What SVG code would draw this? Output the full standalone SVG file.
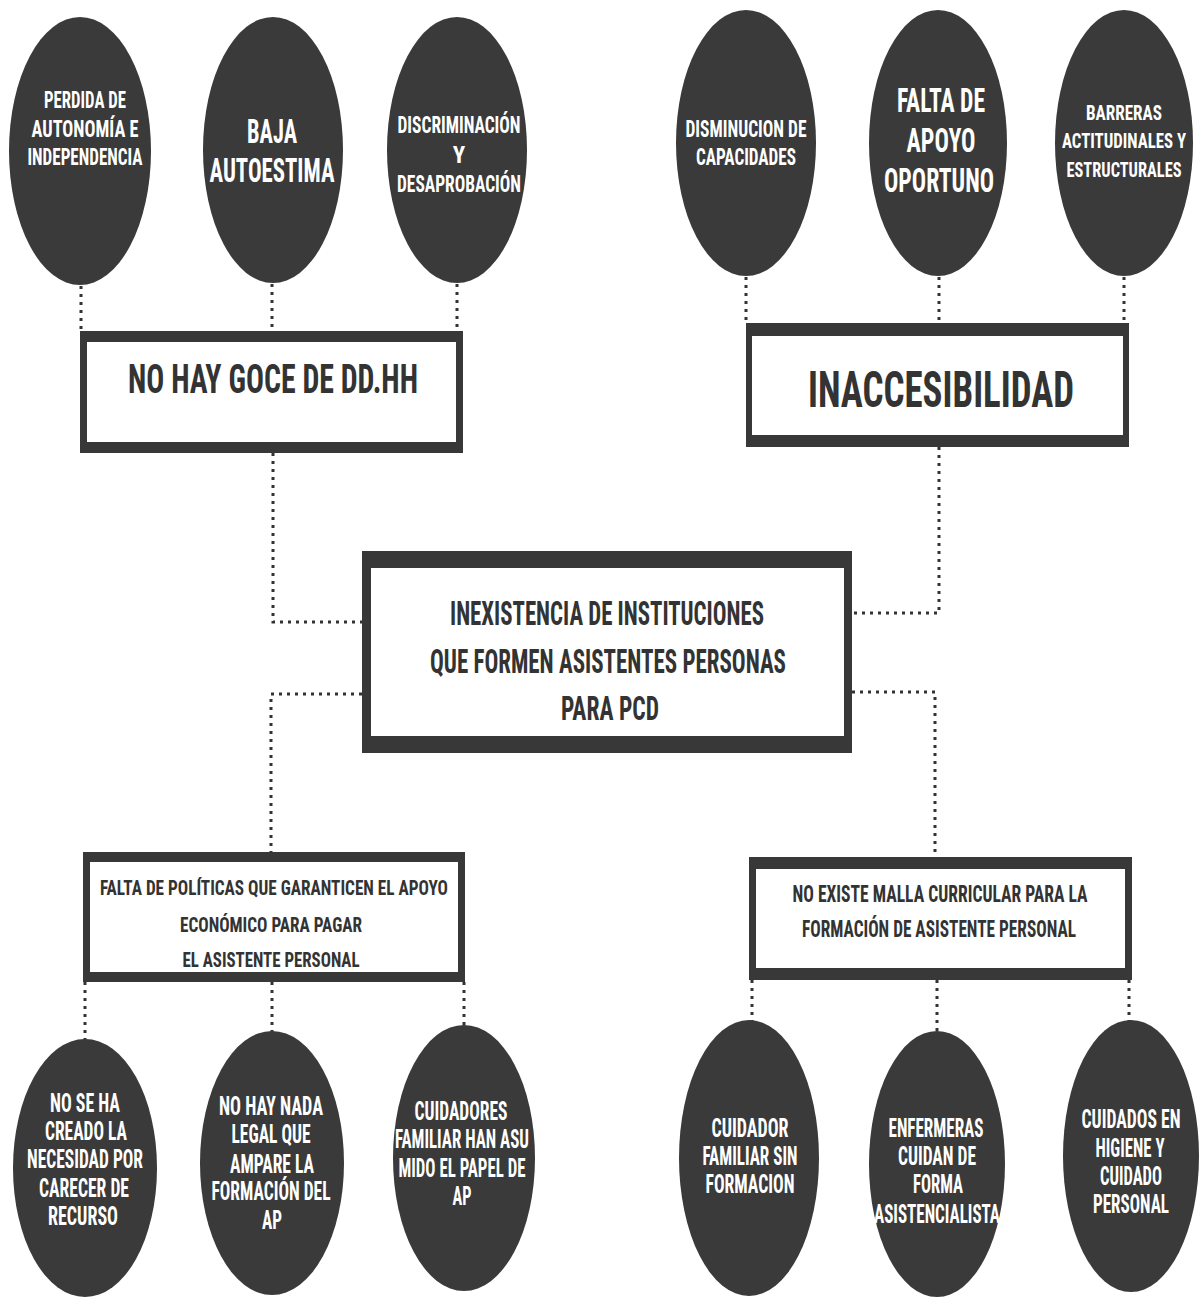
<svg xmlns="http://www.w3.org/2000/svg" width="1202" height="1299" viewBox="0 0 1202 1299">
<style>
.bg{fill:#ffffff}
.c{fill:#3a3a3a}
.bx{fill:#383838}
.in{fill:#ffffff}
.t{font-family:"Liberation Sans Narrow","Roboto Condensed","DejaVu Sans Condensed","Liberation Sans",Arial,sans-serif;font-weight:bold;text-anchor:middle}
.w{fill:#ffffff}
.d{fill:#333333}
.cn{fill:none;stroke:#333333;stroke-width:3;stroke-dasharray:3 5}
</style>
<rect class="bg" x="0" y="0" width="1202" height="1299"/>

<g id="connectors">
<path class="cn" d="M81 286 V331"/>
<path class="cn" d="M272 284 V331"/>
<path class="cn" d="M457 284 V331"/>
<path class="cn" d="M746 277 V323"/>
<path class="cn" d="M939 277 V323"/>
<path class="cn" d="M1124 277 V323"/>
<path class="cn" d="M273 453 V622 H362"/>
<path class="cn" d="M939 447 V613 H852"/>
<path class="cn" d="M362 694 H271 V852"/>
<path class="cn" d="M852 692 H935 V857"/>
<path class="cn" d="M85 982 V1040"/>
<path class="cn" d="M272 982 V1032"/>
<path class="cn" d="M464 982 V1025"/>
<path class="cn" d="M752 980 V1021"/>
<path class="cn" d="M937 980 V1031"/>
<path class="cn" d="M1129 980 V1021"/>
</g>

<g id="tl1">
<ellipse class="c" cx="80" cy="151" rx="71" ry="134"/>
<text class="t w" font-size="23"><tspan x="85" y="108" textLength="82" lengthAdjust="spacingAndGlyphs">PERDIDA DE</tspan><tspan x="85" y="137" textLength="107" lengthAdjust="spacingAndGlyphs">AUTONOMÍA  E</tspan><tspan x="85" y="165" textLength="115" lengthAdjust="spacingAndGlyphs">INDEPENDENCIA</tspan></text>
</g>
<g id="tl2">
<ellipse class="c" cx="273" cy="150" rx="70" ry="133"/>
<text class="t w" font-size="33"><tspan x="272" y="143" textLength="50" lengthAdjust="spacingAndGlyphs">BAJA</tspan><tspan x="272" y="182" textLength="125" lengthAdjust="spacingAndGlyphs">AUTOESTIMA</tspan></text>
</g>
<g id="tl3">
<ellipse class="c" cx="457" cy="150" rx="70" ry="133"/>
<text class="t w" font-size="23"><tspan x="459" y="133" textLength="123" lengthAdjust="spacingAndGlyphs">DISCRIMINACIÓN</tspan><tspan x="459" y="163">Y</tspan><tspan x="459" y="192" textLength="124" lengthAdjust="spacingAndGlyphs">DESAPROBACIÓN</tspan></text>
</g>

<g id="tr1">
<ellipse class="c" cx="746" cy="143" rx="70" ry="133"/>
<text class="t w" font-size="23"><tspan x="746" y="137" textLength="121" lengthAdjust="spacingAndGlyphs">DISMINUCION DE</tspan><tspan x="746" y="165" textLength="100" lengthAdjust="spacingAndGlyphs">CAPACIDADES</tspan></text>
</g>
<g id="tr2">
<ellipse class="c" cx="938" cy="143" rx="69" ry="133"/>
<text class="t w" font-size="33"><tspan x="941" y="112" textLength="88" lengthAdjust="spacingAndGlyphs">FALTA DE</tspan><tspan x="941" y="152" textLength="69" lengthAdjust="spacingAndGlyphs">APOYO</tspan><tspan x="939" y="192" textLength="110" lengthAdjust="spacingAndGlyphs">OPORTUNO</tspan></text>
</g>
<g id="tr3">
<ellipse class="c" cx="1124" cy="143" rx="69" ry="133"/>
<text class="t w" font-size="21"><tspan x="1124" y="120" textLength="76" lengthAdjust="spacingAndGlyphs">BARRERAS</tspan><tspan x="1124" y="148" textLength="124" lengthAdjust="spacingAndGlyphs">ACTITUDINALES Y</tspan><tspan x="1124" y="177" textLength="115" lengthAdjust="spacingAndGlyphs">ESTRUCTURALES</tspan></text>
</g>

<g id="box-ddhh">
<rect class="bx" x="80" y="331" width="383" height="122"/>
<rect class="in" x="87" y="342" width="369" height="100"/>
<text class="t d" font-size="40" x="273" y="393" textLength="290" lengthAdjust="spacingAndGlyphs">NO HAY GOCE DE DD.HH</text>
</g>
<g id="box-inacc">
<rect class="bx" x="746" y="323" width="383" height="124"/>
<rect class="in" x="752" y="336" width="371" height="99"/>
<text class="t d" font-size="50" x="941" y="407" textLength="266" lengthAdjust="spacingAndGlyphs">INACCESIBILIDAD</text>
</g>

<g id="box-center">
<rect class="bx" x="362" y="551" width="490" height="202"/>
<rect class="in" x="371" y="568" width="473" height="168"/>
<text class="t d" font-size="33"><tspan x="607" y="625" textLength="314" lengthAdjust="spacingAndGlyphs">INEXISTENCIA DE INSTITUCIONES</tspan><tspan x="608" y="673" textLength="356" lengthAdjust="spacingAndGlyphs">QUE FORMEN ASISTENTES PERSONAS</tspan><tspan x="610" y="720" textLength="98" lengthAdjust="spacingAndGlyphs">PARA PCD</tspan></text>
</g>

<g id="box-politicas">
<rect class="bx" x="83" y="852" width="382" height="130"/>
<rect class="in" x="90" y="862" width="368" height="110"/>
<text class="t d" font-size="21"><tspan x="274" y="895" textLength="348" lengthAdjust="spacingAndGlyphs">FALTA DE POLÍTICAS QUE  GARANTICEN EL APOYO</tspan><tspan x="271" y="932" textLength="182" lengthAdjust="spacingAndGlyphs">ECONÓMICO PARA PAGAR</tspan><tspan x="271" y="967" textLength="177" lengthAdjust="spacingAndGlyphs">EL ASISTENTE PERSONAL</tspan></text>
</g>
<g id="box-malla">
<rect class="bx" x="749" y="857" width="383" height="123"/>
<rect class="in" x="756" y="869" width="369" height="99"/>
<text class="t d" font-size="23"><tspan x="940" y="902" textLength="295" lengthAdjust="spacingAndGlyphs">NO EXISTE MALLA CURRICULAR  PARA LA</tspan><tspan x="939" y="937" textLength="274" lengthAdjust="spacingAndGlyphs">FORMACIÓN DE ASISTENTE PERSONAL</tspan></text>
</g>

<g id="bl1">
<ellipse class="c" cx="85" cy="1168" rx="72" ry="129"/>
<text class="t w" font-size="25"><tspan x="85" y="1112" textLength="70" lengthAdjust="spacingAndGlyphs">NO SE HA</tspan><tspan x="86" y="1140" textLength="82" lengthAdjust="spacingAndGlyphs">CREADO LA</tspan><tspan x="85" y="1168" textLength="116" lengthAdjust="spacingAndGlyphs">NECESIDAD POR</tspan><tspan x="84" y="1197" textLength="90" lengthAdjust="spacingAndGlyphs">CARECER DE</tspan><tspan x="83" y="1225" textLength="70" lengthAdjust="spacingAndGlyphs">RECURSO</tspan></text>
</g>
<g id="bl2">
<ellipse class="c" cx="272" cy="1163" rx="72" ry="132"/>
<text class="t w" font-size="25"><tspan x="271" y="1115" textLength="104" lengthAdjust="spacingAndGlyphs">NO HAY NADA</tspan><tspan x="271" y="1143" textLength="79" lengthAdjust="spacingAndGlyphs">LEGAL QUE</tspan><tspan x="272" y="1173" textLength="84" lengthAdjust="spacingAndGlyphs">AMPARE LA</tspan><tspan x="271" y="1200" textLength="119" lengthAdjust="spacingAndGlyphs">FORMACIÓN DEL</tspan><tspan x="272" y="1229" textLength="20" lengthAdjust="spacingAndGlyphs">AP</tspan></text>
</g>
<g id="bl3">
<ellipse class="c" cx="464" cy="1158" rx="71" ry="133"/>
<text class="t w" font-size="25"><tspan x="461" y="1120" textLength="93" lengthAdjust="spacingAndGlyphs">CUIDADORES</tspan><tspan x="462" y="1148" textLength="134" lengthAdjust="spacingAndGlyphs">FAMILIAR HAN ASU</tspan><tspan x="462" y="1177" textLength="127" lengthAdjust="spacingAndGlyphs">MIDO EL PAPEL DE</tspan><tspan x="462" y="1205" textLength="19" lengthAdjust="spacingAndGlyphs">AP</tspan></text>
</g>

<g id="br1">
<ellipse class="c" cx="749" cy="1158" rx="70" ry="138"/>
<text class="t w" font-size="25"><tspan x="750" y="1137" textLength="77" lengthAdjust="spacingAndGlyphs">CUIDADOR</tspan><tspan x="750" y="1165" textLength="95" lengthAdjust="spacingAndGlyphs">FAMILIAR SIN</tspan><tspan x="750" y="1193" textLength="89" lengthAdjust="spacingAndGlyphs">FORMACION</tspan></text>
</g>
<g id="br2">
<ellipse class="c" cx="937" cy="1164" rx="68" ry="133"/>
<text class="t w" font-size="25"><tspan x="936" y="1137" textLength="95" lengthAdjust="spacingAndGlyphs">ENFERMERAS</tspan><tspan x="937" y="1165" textLength="78" lengthAdjust="spacingAndGlyphs">CUIDAN DE</tspan><tspan x="938" y="1193" textLength="50" lengthAdjust="spacingAndGlyphs">FORMA</tspan><tspan x="937" y="1223" textLength="126" lengthAdjust="spacingAndGlyphs">ASISTENCIALISTA</tspan></text>
</g>
<g id="br3">
<ellipse class="c" cx="1131" cy="1156" rx="68" ry="136"/>
<text class="t w" font-size="25"><tspan x="1131" y="1128" textLength="99" lengthAdjust="spacingAndGlyphs">CUIDADOS EN</tspan><tspan x="1130" y="1157" textLength="69" lengthAdjust="spacingAndGlyphs">HIGIENE Y</tspan><tspan x="1131" y="1185" textLength="62" lengthAdjust="spacingAndGlyphs">CUIDADO</tspan><tspan x="1131" y="1213" textLength="76" lengthAdjust="spacingAndGlyphs">PERSONAL</tspan></text>
</g>
</svg>
